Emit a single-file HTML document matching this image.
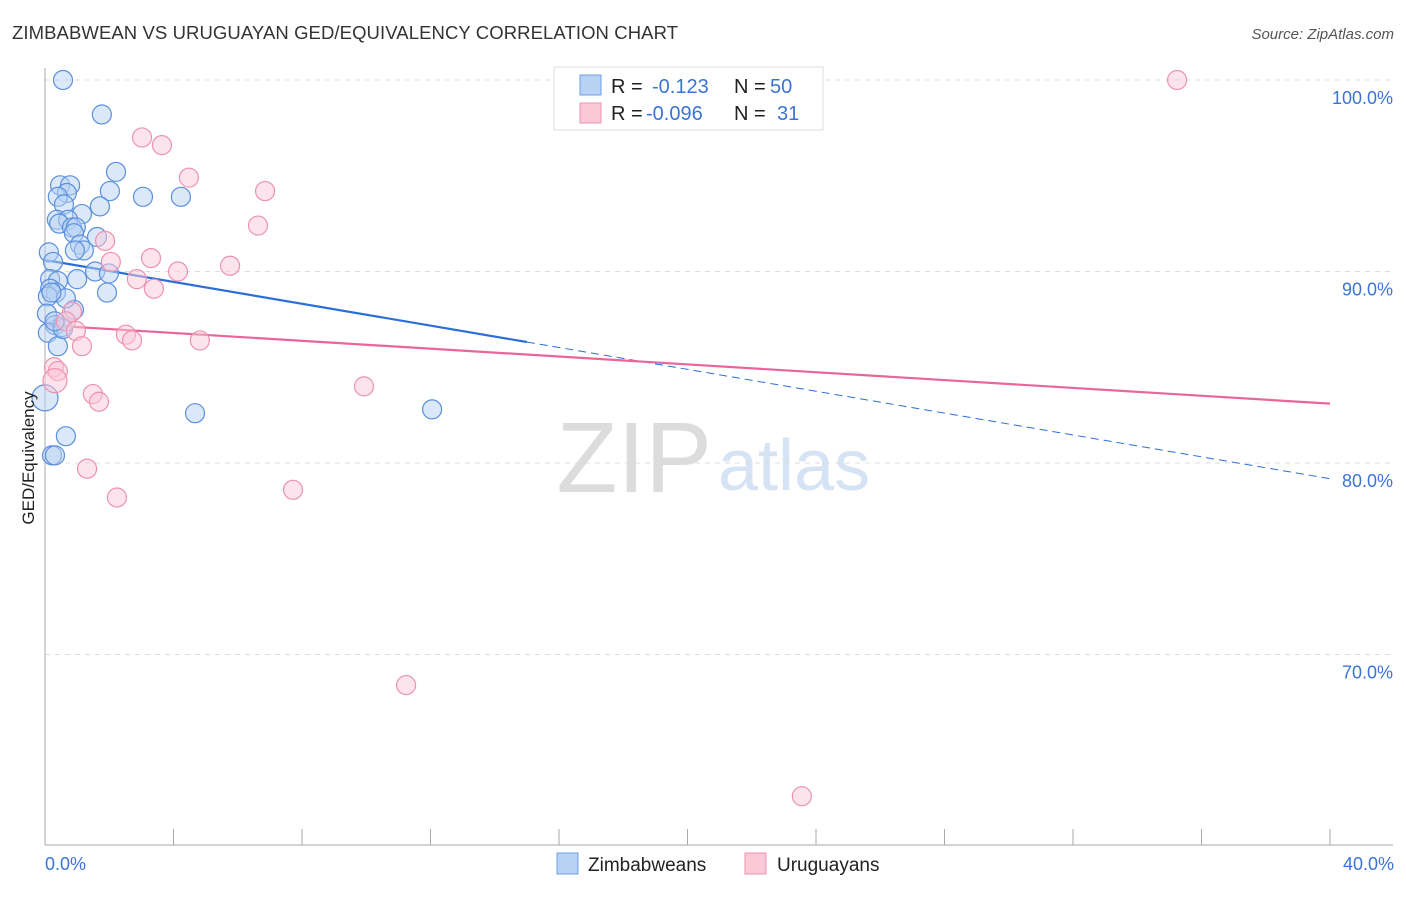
<!DOCTYPE html>
<html><head><meta charset="utf-8"><style>
body{margin:0;background:#fff;font-family:"Liberation Sans",sans-serif;}
svg text{font-family:"Liberation Sans",sans-serif;}
</style></head><body>
<svg id="chart" width="1406" height="892" viewBox="0 0 1406 892" xmlns="http://www.w3.org/2000/svg">
<text x="12" y="39" font-size="18.5" fill="#333" textLength="666">ZIMBABWEAN VS URUGUAYAN GED/EQUIVALENCY CORRELATION CHART</text>
<text x="1394" y="39" font-size="15" fill="#555" font-style="italic" text-anchor="end">Source: ZipAtlas.com</text>
<g>
<text x="712" y="492" font-size="100" fill="#dcdcdc" text-anchor="end" font-family="Liberation Serif,serif">ZIP</text>
<text x="718" y="490" font-size="72" fill="#d6e3f4">atlas</text>
</g>
<g id="grid"></g>
<g id="axes"></g>
<g id="lines"></g>
<g id="points"></g>
<text transform="translate(34,458) rotate(-90)" font-size="17" fill="#222" text-anchor="middle">GED/Equivalency</text>
<text x="45" y="870" font-size="18" fill="#3b74d4">0.0%</text>
<text x="1394" y="870" font-size="18" fill="#3b74d4" text-anchor="end">40.0%</text>
<g>
<rect x="554" y="67" width="269" height="63" fill="#fff" stroke="#ddd"/>
<rect x="580" y="75" width="21" height="20" fill="#b8d2f4" stroke="#6f9fe0"/>
<rect x="580" y="103" width="21" height="20" fill="#fbc8d8" stroke="#ec93b0"/>
<text x="611" y="93" font-size="20" fill="#222">R =</text>
<text x="652" y="93" font-size="20" fill="#3b74d4">-0.123</text>
<text x="734" y="93" font-size="20" fill="#222">N =</text>
<text x="770" y="93" font-size="20" fill="#3b74d4">50</text>
<text x="611" y="120" font-size="20" fill="#222">R =</text>
<text x="646" y="120" font-size="20" fill="#3b74d4">-0.096</text>
<text x="734" y="120" font-size="20" fill="#222">N =</text>
<text x="777" y="120" font-size="20" fill="#3b74d4">31</text>
</g>
<g>
<rect x="557" y="853" width="21" height="21" fill="#b8d2f4" stroke="#6f9fe0"/>
<text x="588" y="871" font-size="19" fill="#222">Zimbabweans</text>
<rect x="745" y="853" width="21" height="21" fill="#fbc8d8" stroke="#ec93b0"/>
<text x="777" y="871" font-size="19" fill="#222">Uruguayans</text>
</g>
</svg>
<script>
const yTicks=[100,90,80,70];
const yTickLabels=["100.0%","90.0%","80.0%","70.0%"];
const xTicks=[0,4,8,12,16,20,24,28,32,36,40];
const blueX=[0.56,1.77,2.21,0.47,0.78,2.02,0.68,0.40,3.05,4.23,0.59,1.71,1.15,0.37,0.72,0.44,0.84,0.96,0.90,1.62,1.09,1.21,0.93,0.12,0.25,1.56,1.99,1.00,0.16,0.40,0.16,0.34,1.93,0.09,0.90,0.06,0.31,0.53,0.09,0.40,0.0,4.67,12.05,0.65,0.22,0.31,0.56,0.65,0.2,0.3];
const blueY=[100.0,98.2,95.2,94.5,94.5,94.2,94.1,93.9,93.9,93.9,93.5,93.4,93.0,92.7,92.7,92.5,92.3,92.3,92.0,91.8,91.4,91.1,91.1,91.0,90.5,90.0,89.9,89.6,89.6,89.5,89.1,88.9,88.9,88.7,88.0,87.8,87.2,87.1,86.8,86.1,83.4,82.6,82.8,81.4,80.4,80.4,87.0,88.6,88.9,87.4];
const pinkX=[35.24,3.02,3.64,4.48,6.85,6.63,1.87,2.05,3.30,5.76,4.14,2.86,3.39,0.84,0.65,0.96,2.52,2.71,4.82,1.15,0.28,0.40,0.31,1.49,1.68,9.93,1.31,2.24,7.72,11.24,23.56];
const pinkY=[100.0,97.0,96.6,94.9,94.2,92.4,91.6,90.5,90.7,90.3,90.0,89.6,89.1,87.9,87.4,86.9,86.7,86.4,86.4,86.1,85.0,84.8,84.3,83.6,83.2,84.0,79.7,78.2,78.6,68.4,62.6];
const trendIntercept=[90.6,87.2];
const trendSlope=[-0.2855,-0.1025];
const trendSolidEnd=[15,40];
const X0=45,X1=1330,Y100=80,PX_PER_PCT=19.15;
const xs=v=>X0+(v/40)*(X1-X0);
const ys=v=>Y100+(100-v)*PX_PER_PCT;
const NS="http://www.w3.org/2000/svg";
function mk(tag,attrs,parent){const e=document.createElementNS(NS,tag);for(const k in attrs)e.setAttribute(k,attrs[k]);parent.appendChild(e);return e;}
const grid=document.getElementById('grid');
yTicks.forEach((t,i)=>{
  const l=mk('line',{x1:45,x2:1393,y1:ys(t),y2:ys(t),stroke:'#ddd','stroke-dasharray':'5,5'},grid);
  
  
  const tx=mk('text',{x:1393,y:ys(t)+24,'font-size':18,fill:'#3b74d4','text-anchor':'end'},grid);
  tx.textContent=yTickLabels[i];
  
  
});
const axes=document.getElementById('axes');
const ya=mk('line',{x1:45,x2:45,y1:68,y2:845,stroke:'#aaa'},axes);


const xa=mk('line',{x1:45,x2:1393,y1:845,y2:845,stroke:'#aaa'},axes);


xTicks.forEach(t=>{
  const k=mk('line',{x1:xs(t),x2:xs(t),y1:829,y2:845,stroke:'#aaa'},axes);
  
  
});
const pts=document.getElementById('points');
function dots(X,Y,fill,stroke,name){
  X.forEach((x,i)=>{
    const r=(x<0.05)?13:(name==='pink-point'&&i===22?12:9.5);
    const c=mk('circle',{cx:xs(x),cy:ys(Y[i]),r:r,fill:fill,'fill-opacity':0.5,stroke:stroke,'stroke-width':1.2},pts);
    
    
  });
}
dots(blueX,blueY,'#b8d2f4','#5b8fdc','blue-point');
dots(pinkX,pinkY,'#fbc8d8','#ec93b0','pink-point');
const lines=document.getElementById('lines');
const colors=['#2a6fd8','#e8669a'];
[0,1].forEach(s=>{
  const f=x=>trendIntercept[s]+trendSlope[s]*x;
  const a=mk('line',{x1:xs(0),y1:ys(f(0)),x2:xs(trendSolidEnd[s]),y2:ys(f(trendSolidEnd[s])),stroke:colors[s],'stroke-width':2.2},lines);
  
  
  if(trendSolidEnd[s]<40){
    const b=mk('line',{x1:xs(trendSolidEnd[s]),y1:ys(f(trendSolidEnd[s])),x2:xs(40),y2:ys(f(40)),stroke:colors[s],'stroke-width':1,'stroke-dasharray':'8,5'},lines);
    
    
  }
});
</script>
</body></html>
